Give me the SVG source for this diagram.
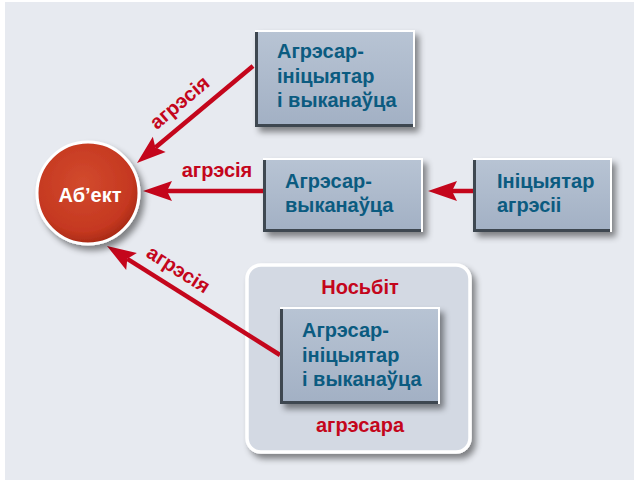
<svg xmlns="http://www.w3.org/2000/svg" width="634" height="481" viewBox="0 0 634 481">
<defs>
<style>
.box{fill:url(#boxg)}
.hl{fill:none;stroke:#ffffff;stroke-width:2}
.dk{fill:none;stroke:#3e4750;stroke-width:3}
.bt{font-family:"Liberation Sans",Arial,sans-serif;font-weight:bold;font-size:20px;fill:#0b5b80}
.lbl{font-family:"Liberation Sans",Arial,sans-serif;font-weight:bold;font-size:20px;fill:#c4061c}
.arr{stroke:#c4061c;stroke-width:4.5;fill:none;marker-end:url(#head)}
</style>
<linearGradient id="boxg" x1="0" y1="0" x2="0" y2="1">
<stop offset="0" stop-color="#b8c4d4"/>
<stop offset="1" stop-color="#a2b0c4"/>
</linearGradient>
<radialGradient id="redg" cx="0.45" cy="0.4" r="0.6">
<stop offset="0" stop-color="#d24a2e"/>
<stop offset="0.8" stop-color="#c53820"/>
<stop offset="1" stop-color="#a82a16"/>
</radialGradient>
<filter id="sh" x="-20%" y="-20%" width="150%" height="150%">
<feDropShadow dx="4" dy="5" stdDeviation="3" flood-color="#000" flood-opacity="0.45"/>
</filter>
<marker id="head" markerUnits="userSpaceOnUse" viewBox="-6 -11 31 22" markerWidth="31" markerHeight="22" refX="0" refY="0" orient="auto">
<path d="M24,0 L-5,-10 L0,0 L-5,10 Z" fill="#c4061c"/>
</marker>
</defs>
<rect x="5" y="2" width="629" height="478" fill="#e7eaf0"/>

<g id="carrier">
<rect x="247" y="265" width="223" height="187" rx="14" fill="#d3d9e3" stroke="#ffffff" stroke-width="3.5" filter="url(#sh)"/>
<text class="lbl" x="360" y="294" text-anchor="middle">Носьбіт</text>
<text class="lbl" x="360" y="432" text-anchor="middle">агрэсара</text>
</g>

<g id="connectors">
<path class="arr" d="M253,66 L155.4,147.6"/>
<path class="arr" d="M263,191 L167,191"/>
<path class="arr" d="M280,355 L127.3,258.8"/>
<path class="arr" d="M473,191 L452,191"/>
<text class="lbl" transform="translate(180,103) rotate(-40)" x="0" y="6" text-anchor="middle">агрэсія</text>
<text class="lbl" x="217" y="177" text-anchor="middle">агрэсія</text>
<text class="lbl" transform="translate(178,270) rotate(32.5)" x="0" y="6" text-anchor="middle">агрэсія</text>
</g>

<g id="object">
<circle cx="88" cy="193" r="51" fill="url(#redg)" stroke="#ffffff" stroke-width="3" filter="url(#sh)"/>
<text x="90" y="202" text-anchor="middle" style="font-family:'Liberation Sans',Arial,sans-serif;font-weight:bold;font-size:20px;fill:#ffffff">Аб’ект</text>
</g>

<g id="box-aggressor-initiator-executor">
<rect class="box" x="255" y="30" width="160" height="97" filter="url(#sh)"/>
<polyline class="dk" points="256.5,30 256.5,125.5 415,125.5"/>
<polyline class="hl" points="255,31 414,31 414,127"/>
<text class="bt" x="277" y="58">Агрэсар-</text>
<text class="bt" x="277" y="83">ініцыятар</text>
<text class="bt" x="277" y="107">і выканаўца</text>
</g>

<g id="box-aggressor-executor">
<rect class="box" x="263" y="158" width="160" height="74" filter="url(#sh)"/>
<polyline class="dk" points="264.5,158 264.5,230.5 423,230.5"/>
<polyline class="hl" points="263,159 422,159 422,232"/>
<text class="bt" x="285" y="188">Агрэсар-</text>
<text class="bt" x="285" y="212">выканаўца</text>
</g>

<g id="box-initiator">
<rect class="box" x="473" y="158" width="139" height="74" filter="url(#sh)"/>
<polyline class="dk" points="474.5,158 474.5,230.5 612,230.5"/>
<polyline class="hl" points="473,159 611,159 611,232"/>
<text class="bt" x="497" y="188">Ініцыятар</text>
<text class="bt" x="497" y="212">агрэсіі</text>
</g>

<g id="box-inner">
<rect class="box" x="280" y="307" width="160" height="97" filter="url(#sh)"/>
<polyline class="dk" points="281.5,307 281.5,402.5 440,402.5"/>
<polyline class="hl" points="280,308 439,308 439,404"/>
<text class="bt" x="302" y="337">Агрэсар-</text>
<text class="bt" x="302" y="362">ініцыятар</text>
<text class="bt" x="302" y="386">і выканаўца</text>
</g>
</svg>
